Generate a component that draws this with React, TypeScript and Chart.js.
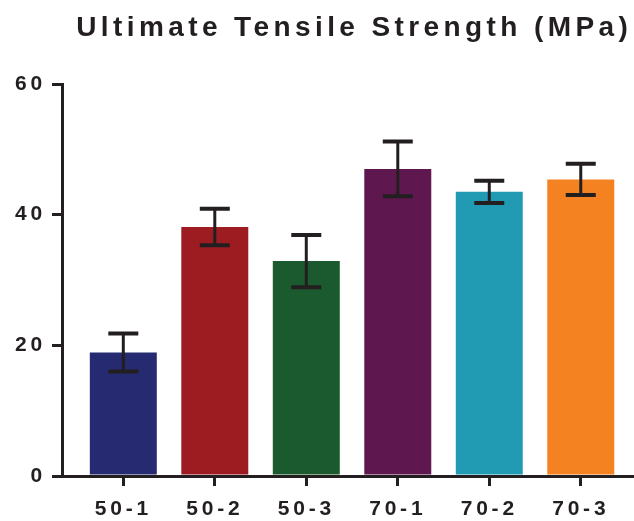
import React, { useEffect, useRef } from 'react';
import { Chart, registerables } from 'chart.js';

Chart.register(...registerables);

const chartTitle = 'Ultimate Tensile Strength (MPa)';
const categories = ['50-1', '50-2', '50-3', '70-1', '70-2', '70-3'];
const means = [18.9, 38.1, 32.9, 47.0, 43.5, 45.4];
const sds = [2.9, 2.8, 4.0, 4.2, 1.7, 2.4];
const barColors = ['#262a70', '#9c1c22', '#1b5a2e', '#5f174f', '#219bb4', '#f58220'];
const yMin = 0;
const yMax = 60;
const yStep = 20;

const INK = '#231f20';
const FONT = '"Liberation Sans", Arial, sans-serif';
const TICK_SPACING = '3.8px';

const spacingPlugin = {
  id: 'letterSpacing',
  beforeUpdate(chart: any) { chart.ctx.letterSpacing = TICK_SPACING; },
  beforeLayout(chart: any) { chart.ctx.letterSpacing = TICK_SPACING; },
  beforeDraw(chart: any) { chart.ctx.letterSpacing = TICK_SPACING; },
};

const errorBarPlugin = {
  id: 'errorBars',
  afterDatasetsDraw(chart: any) {
    const ctx = chart.ctx;
    const meta = chart.getDatasetMeta(0);
    const y = chart.scales.y;
    ctx.save();
    ctx.strokeStyle = INK;
    ctx.lineCap = 'butt';
    meta.data.forEach((bar: any, i: number) => {
      const x = bar.x;
      const top = y.getPixelForValue(means[i] + sds[i]);
      const bot = y.getPixelForValue(means[i] - sds[i]);
      ctx.lineWidth = 3;
      ctx.beginPath();
      ctx.moveTo(x, top);
      ctx.lineTo(x, bot);
      ctx.stroke();
      ctx.lineWidth = 4;
      ctx.beginPath();
      ctx.moveTo(x - 15, top);
      ctx.lineTo(x + 15, top);
      ctx.moveTo(x - 15, bot);
      ctx.lineTo(x + 15, bot);
      ctx.stroke();
    });
    ctx.restore();
  },
};

const titlePlugin = {
  id: 'spacedTitle',
  afterDraw(chart: any) {
    const ctx = chart.ctx;
    const area = chart.chartArea;
    ctx.save();
    ctx.font = `bold 28px ${FONT}`;
    const ls = 4.4;
    ctx.letterSpacing = `${ls}px`;
    ctx.fillStyle = INK;
    ctx.textAlign = 'left';
    ctx.textBaseline = 'alphabetic';
    const w = ctx.measureText(chartTitle).width - ls;
    const cx = (area.left + area.right) / 2 + 5;
    ctx.fillText(chartTitle, cx - w / 2, 36);
    ctx.restore();
  },
};

export default function App() {
  const canvasRef = useRef<HTMLCanvasElement | null>(null);

  useEffect(() => {
    document.body.style.margin = '0';
    const canvas = canvasRef.current;
    if (!canvas) return;
    const chart = new Chart(canvas, {
      type: 'bar',
      data: {
        datasets: [
          {
            data: categories.map((_, i) => ({ x: i, y: means[i] })),
            backgroundColor: barColors,
            borderWidth: 0,
            categoryPercentage: 1,
            barPercentage: 0.732,
          },
        ],
      },
      options: {
        animation: false,
        responsive: false,
        devicePixelRatio: 1,
        layout: { padding: { top: 84, right: 2, left: 0, bottom: 0 } },
        plugins: {
          legend: { display: false },
          tooltip: { enabled: false },
          title: { display: false },
        },
        scales: {
          x: {
            type: 'linear',
            offset: false,
            min: -0.67,
            max: 5.56,
            afterBuildTicks: (scale: any) => {
              scale.ticks = categories.map((_, i) => ({ value: i }));
            },
            afterFit: (scale: any) => {
              scale.height = 45;
            },
            ticks: {
              callback: (v: any) => categories[Math.round(Number(v))],
              font: { family: FONT, size: 21, weight: 'bold' },
              color: INK,
              padding: 11,
              maxRotation: 0,
              autoSkip: false,
            },
            grid: {
              offset: false,
              drawOnChartArea: false,
              drawTicks: true,
              tickLength: 10,
              lineWidth: 3,
              color: INK,
            },
            border: { display: true, width: 3, color: INK },
          },
          y: {
            min: yMin,
            max: yMax,
            afterFit: (scale: any) => {
              scale.width = 62;
            },
            ticks: {
              stepSize: yStep,
              font: { family: FONT, size: 21, weight: 'bold' },
              color: INK,
              padding: 6,
            },
            grid: {
              drawOnChartArea: false,
              drawTicks: true,
              tickLength: 10,
              lineWidth: 3,
              color: INK,
            },
            border: { display: true, width: 3, color: INK },
          },
        },
      },
      plugins: [spacingPlugin, errorBarPlugin, titlePlugin],
    });
    return () => chart.destroy();
  }, []);

  return (
    <div style={{ width: 634, height: 521 }}>
      <canvas ref={canvasRef} width={634} height={521} style={{ display: 'block' }} />
    </div>
  );
}
